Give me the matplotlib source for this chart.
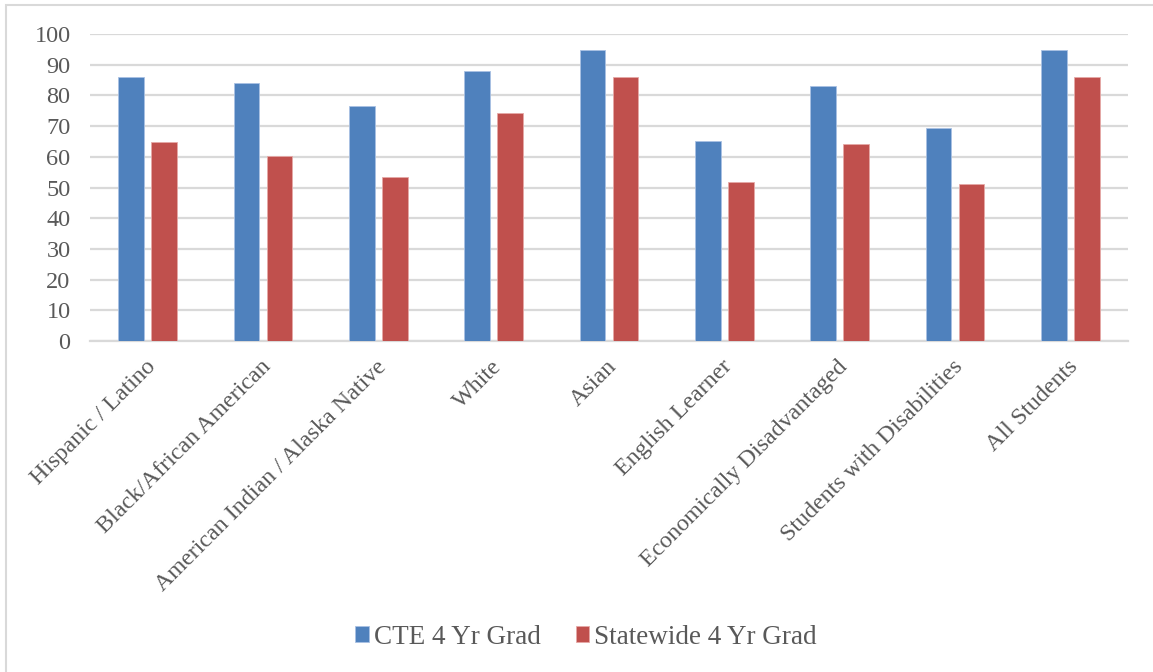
import matplotlib
matplotlib.use("Agg")
import matplotlib.pyplot as plt
import matplotlib.transforms as mtransforms
import numpy as np
from matplotlib.patches import Rectangle

categories = ["Hispanic / Latino", "Black/African American", "American Indian / Alaska Native",
              "White", "Asian", "English Learner", "Economically Disadvantaged",
              "Students with Disabilities", "All Students"]
cte_grad = [86.0, 84.1, 76.6, 87.8, 94.7, 65.0, 83.1, 69.4, 94.7]
statewide_grad = [64.8, 60.2, 53.5, 74.2, 86.0, 51.7, 64.2, 51.1, 86.0]
series_names = ["CTE 4 Yr Grad", "Statewide 4 Yr Grad"]
yticks = list(range(0, 101, 10))

plt.rcParams['font.family'] = ['Liberation Serif', 'DejaVu Serif']
text_color = "#595959"
grid_color = "#d9d9d9"
blue = "#4f81bd"
red = "#c0504d"

fig = plt.figure(figsize=(11.53, 6.72), dpi=100)
ax = fig.add_axes([90/1153, 1 - 341/672, (1128-90)/1153, (341-34)/672])

x = np.arange(len(categories))
w = 0.225
off = 0.143
ax.bar(x - off, cte_grad, w, color=blue, edgecolor="#a9c1e3", linewidth=0.6, label=series_names[0], zorder=3)
ax.bar(x + off, statewide_grad, w, color=red, edgecolor="#e6a9a7", linewidth=0.6, label=series_names[1], zorder=3)

ax.set_xlim(-0.5, len(categories) - 0.5)
ax.set_ylim(0, 100)
ax.set_yticks(yticks)
ax.set_yticklabels([str(t) for t in yticks])
ax.yaxis.grid(True, color=grid_color, linewidth=1.6, zorder=0)
ax.set_axisbelow(True)
for s in ["top", "right", "left"]:
    ax.spines[s].set_visible(False)
ax.spines["bottom"].set_color(grid_color)
ax.spines["bottom"].set_linewidth(1.6)
ax.tick_params(axis="y", length=0, pad=14, labelsize=17.5, labelcolor=text_color)
ax.tick_params(axis="x", length=0, pad=11, labelsize=17.3, labelcolor=text_color)
ax.set_xticks(x)
ax.set_xticklabels(categories, rotation=45, ha="right", va="top", rotation_mode="anchor")
shift = mtransforms.ScaledTranslation(-3/100, 0, fig.dpi_scale_trans)
for lab in ax.get_xticklabels():
    lab.set_transform(lab.get_transform() + shift)

leg = fig.legend(loc="center", bbox_to_anchor=(586/1153, 1 - 637/672), ncol=2, frameon=False,
                 fontsize=19.5, handlelength=0.5, handleheight=0.5, handletextpad=0.18,
                 columnspacing=1.3, labelcolor=text_color)

fig.patches.append(Rectangle((6/1153, -0.05), 1.2, 1 - 5/672 + 0.05, transform=fig.transFigure,
                             fill=False, edgecolor=grid_color, linewidth=1.5))

fig.savefig("out.png", dpi=100)
